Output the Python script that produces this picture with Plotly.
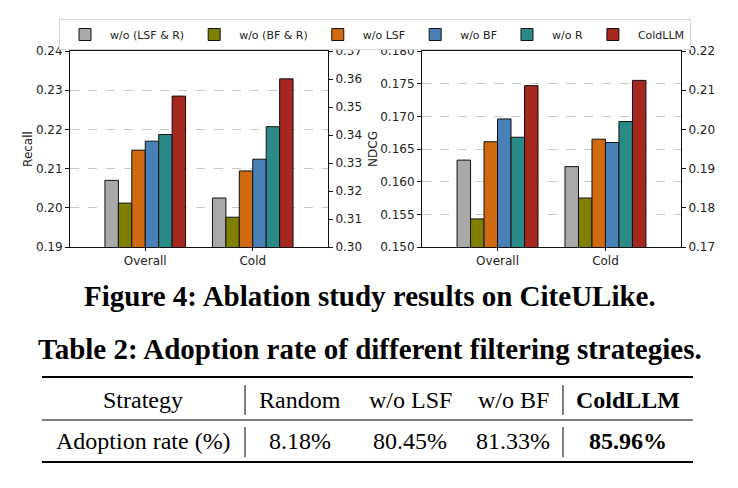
import plotly.graph_objects as go

# ---------------- data ----------------
groups = ["Overall", "Cold"]
variants = ["w/o (LSF & R)", "w/o (BF & R)", "w/o LSF", "w/o BF", "w/o R", "ColdLLM"]
colors = ["#A9A9A9", "#808000", "#D0690F", "#4A80B8", "#2A8A87", "#A6271F"]

recall_overall = [0.2070, 0.2012, 0.2147, 0.2170, 0.2187, 0.2285]
recall_cold = [0.2025, 0.1976, 0.2094, 0.2124, 0.2207, 0.2329]
ndcg_overall = [0.1633, 0.1543, 0.1661, 0.1696, 0.1668, 0.1747]
ndcg_cold = [0.1623, 0.1575, 0.1665, 0.1660, 0.1692, 0.1755]

fig_caption = "Figure 4: Ablation study results on CiteULike."
table_caption = "Table 2: Adoption rate of different filtering strategies."
table_header = ["Strategy", "Random", "w/o LSF", "w/o BF", "ColdLLM"]
table_row = ["Adoption rate (%)", "8.18%", "80.45%", "81.33%", "85.96%"]
bold_col = 4

# ---------------- layout helpers ----------------
# the page body has an 8 px margin, so the figure is drawn 8 px in from the corner
OFF = 8
W, H = 738 - 2 * OFF, 488 - 2 * OFF


def px_x(p):
    return (p - OFF) / W


def px_y(p):
    return 1 - (p - OFF) / H


fig = go.Figure()

for i, name in enumerate(variants):
    common = dict(
        name=name,
        legendgroup=name,
        marker=dict(color=colors[i], line=dict(color="#111111", width=1)),
    )
    fig.add_trace(go.Bar(x=groups, y=[recall_overall[i], recall_cold[i]],
                         xaxis="x", yaxis="y", showlegend=True, **common))
    fig.add_trace(go.Bar(x=groups, y=[ndcg_overall[i], ndcg_cold[i]],
                         xaxis="x2", yaxis="y2", showlegend=False, **common))

# empty traces so that the twin (right-hand) axes are drawn
fig.add_trace(go.Scatter(x=[], y=[], xaxis="x", yaxis="y3", showlegend=False))
fig.add_trace(go.Scatter(x=[], y=[], xaxis="x2", yaxis="y4", showlegend=False))

tickfont = dict(family="DejaVu Sans", size=12, color="#222222")
ydom = [px_y(247), px_y(51)]

xcommon = dict(type="category", range=[-0.7, 1.7], showline=True, mirror=True,
               linecolor="#111111", linewidth=1, ticks="outside", ticklen=3,
               tickcolor="#111111", tickfont=tickfont, showgrid=False, zeroline=False,
               automargin=False)
ycommon = dict(showline=True, linecolor="#111111", linewidth=1, ticks="outside",
               ticklen=4, tickcolor="#111111", tickfont=tickfont, zeroline=False,
               showgrid=True, gridcolor="#c8c8c8", griddash="dash", gridwidth=1,
               automargin=False)
ytwin = dict(showline=True, linecolor="#111111", linewidth=1, ticks="outside",
             ticklen=4, tickcolor="#111111", tickfont=tickfont, zeroline=False,
             showgrid=False, side="right", automargin=False)

fig.update_layout(
    width=W, height=H,
    margin=dict(l=0, r=0, t=0, b=0, autoexpand=False),
    paper_bgcolor="white", plot_bgcolor="white",
    barmode="group", bargap=0.25, bargroupgap=0,
    font=dict(family="DejaVu Sans", size=11, color="#222222"),
    xaxis=dict(domain=[px_x(70), px_x(328)], anchor="y", **xcommon),
    xaxis2=dict(domain=[px_x(422), px_x(681)], anchor="y2", **xcommon),
    yaxis=dict(domain=ydom, anchor="x", range=[0.19, 0.24], dtick=0.01,
               tickformat=".2f",
               title=dict(text="Recall", font=dict(size=12), standoff=0), **ycommon),
    yaxis2=dict(domain=ydom, anchor="x2", range=[0.150, 0.180], dtick=0.005,
                tickformat=".3f",
                title=dict(text="NDCG", font=dict(size=12), standoff=0), **ycommon),
    yaxis3=dict(overlaying="y", anchor="x", range=[0.30, 0.37], dtick=0.01,
                tickformat=".2f", **ytwin),
    yaxis4=dict(overlaying="y2", anchor="x2", range=[0.17, 0.22], dtick=0.01,
                tickformat=".2f", **ytwin),
    legend=dict(orientation="h", x=px_x(59), xanchor="left", y=px_y(19), yanchor="top",
                bordercolor="#d4d4d4", borderwidth=1, bgcolor="white",
                font=dict(family="DejaVu Sans", size=11, color="#222222"),
                itemwidth=40, traceorder="normal"),
)

annotations = []
shapes = []
serif = "Liberation Serif, Times New Roman, serif"

annotations.append(dict(text="<b>" + fig_caption + "</b>", x=px_x(370), y=px_y(296),
                        xref="paper", yref="paper", xanchor="center", yanchor="middle",
                        showarrow=False, font=dict(family=serif, size=29, color="black")))
annotations.append(dict(text="<b>" + table_caption + "</b>", x=px_x(370), y=px_y(349),
                        xref="paper", yref="paper", xanchor="center", yanchor="middle",
                        showarrow=False, font=dict(family=serif, size=29, color="black")))

col_x = [143, 300, 410, 513, 628]
row_y = [400, 441]
for r, row in enumerate([table_header, table_row]):
    for c, txt in enumerate(row):
        label = "<b>" + txt + "</b>" if c == bold_col else txt
        annotations.append(dict(text=label, x=px_x(col_x[c]), y=px_y(row_y[r]),
                                xref="paper", yref="paper", xanchor="center",
                                yanchor="middle", showarrow=False,
                                font=dict(family=serif, size=24, color="black")))

for yy, lw in [(377, 2.2), (420, 1.2), (462, 2.2)]:
    shapes.append(dict(type="line", xref="paper", yref="paper",
                       x0=px_x(42), x1=px_x(693), y0=px_y(yy), y1=px_y(yy),
                       line=dict(color="black", width=lw)))
for xx in [245, 563]:
    for (ya, yb) in [(385, 415), (427, 457)]:
        shapes.append(dict(type="line", xref="paper", yref="paper",
                           x0=px_x(xx), x1=px_x(xx), y0=px_y(ya), y1=px_y(yb),
                           line=dict(color="black", width=1)))

fig.update_layout(annotations=annotations, shapes=shapes)
fig.write_html("out.html")
